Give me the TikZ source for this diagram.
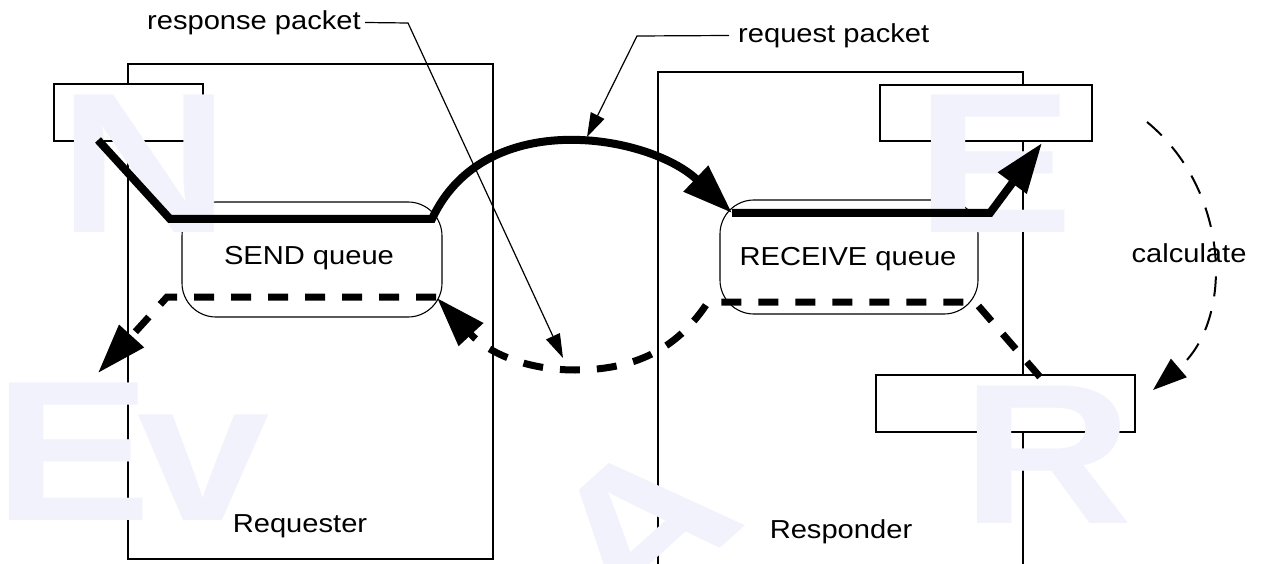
\documentclass[tikz,border=0pt]{standalone}
\usepackage{fontspec}
\setmainfont{Liberation Sans}
\newfontfamily\lab[FakeStretch=1.12]{Liberation Sans}
\newfontfamily\wmfont[FakeStretch=1.19]{Liberation Sans}
\usetikzlibrary{arrows.meta}
\definecolor{wm}{RGB}{242,242,252}
\tikzset{
  box/.style={draw, line width=2pt, fill=white, inner sep=0pt, outer sep=0pt},
  queue/.style={draw, line width=1.1pt, rounded corners=34pt, inner sep=0pt, outer sep=0pt},
  heavy/.style={line width=8pt, -{Triangle[length=50pt,width=34pt]}},
  heavydash/.style={line width=7pt, dash pattern=on 20pt off 17pt, -{Triangle[length=50pt,width=32pt]}},
  leader/.style={line width=1.2pt, -{Triangle[length=24pt,width=15pt]}},
  calcarc/.style={line width=2pt, dash pattern=on 20pt off 15pt, -{Triangle[length=34pt,width=24pt]}},
  lbl/.style={font=\lab\fontsize{26}{30}\selectfont, inner sep=0pt},
  wmark/.style={font=\wmfont\bfseries\fontsize{200}{200}\selectfont, text=wm, inner sep=0pt, anchor=base west}
}
\begin{document}
\begin{tikzpicture}[x=1pt,y=-1pt]
\useasboundingbox (0,0) rectangle (1261,564);
\clip (0,0) rectangle (1261,564);
% outer boxes
\node[draw, line width=2pt, minimum width=365pt, minimum height=495pt, inner sep=0pt] (requester) at (310.5,311.5) {};
\draw[line width=2pt] (658,575) |- (1023,72) -- (1023,575);
% small rectangles
\node[box, minimum width=149pt, minimum height=57pt] (lrect) at (128.5,112.5) {};
\node[box, minimum width=212pt, minimum height=56pt] (trect) at (986,113) {};
\node[box, minimum width=259pt, minimum height=57pt] (brect) at (1005.5,403.5) {};
% queues
\node[queue, minimum width=260pt, minimum height=115pt] (sendq) at (312,259.5) {};
\node[queue, minimum width=258pt, minimum height=114pt] (recvq) at (849,257) {};
% watermark
\node[wmark] (wmN) at (58,233) {N};
\node[wmark] (wmE) at (915,233) {E};
\node[wmark] (wmE2) at (-7,520) {E};
\node[wmark] (wmv) at (137,520) {v};
\node[wmark] (wmR) at (961,523) {R};
\node[font=\wmfont\bfseries\fontsize{200}{200}\selectfont, text=wm, inner sep=0pt, rotate=42] (wmA) at (640,528) {A};
% labels
\node[lbl] (sendt) at (309,258) {SEND queue};
\node[lbl] (recvt) at (848,259) {RECEIVE queue};
\node[lbl] (reqt) at (300,526.5) {Requester};
\node[lbl] (respt) at (841,531.5) {Responder};
\node[lbl] (calct) at (1189,253) {calculate};
\node[lbl, anchor=east] (resppk) at (361,22.5) {response packet};
\node[lbl, anchor=west] (reqpk) at (738,35.5) {request packet};
% coordinates
\coordinate (s0) at (98,140);
\coordinate (s1) at (170,219);
\coordinate (s2) at (432,219);
\coordinate (s3) at (732,213);
\coordinate (r1) at (990,213);
\coordinate (r2) at (1042,143);
\coordinate (d0) at (436,297);
\coordinate (d1) at (167,297);
\coordinate (d2) at (98,373);
\coordinate (e0) at (1040,377);
\coordinate (e1) at (975,302);
\coordinate (e2) at (708,302);
\coordinate (e3) at (575,370);
\coordinate (e4) at (437,298);
\coordinate (c0) at (1147,122);
\coordinate (c1) at (1153,390);
\coordinate (rk) at (408,23);
\coordinate (rtip) at (563,358);
\coordinate (qk) at (637,36);
\coordinate (qtip) at (587,137);
% connectors
\draw[heavy, line join=miter] (s0) -- (s1) -- (s2) .. controls (485,105) and (650,135) .. (s3);
\draw[heavy, line join=miter] (s3) -- (r1) -- (r2);
\draw[heavydash] (d0) -- (d1) -- (d2);
\draw[heavydash] (e0) -- (e1) -- (e2) .. controls (680,345) and (640,370) .. (e3) .. controls (530,370) and (490,355) .. (e4);
\draw[calcarc] (c0) .. controls (1230,190) and (1235,320) .. (c1);
\draw[leader] ([xshift=4pt]resppk.east) -- (rk) -- (rtip);
\draw[leader] ([xshift=-9pt]reqpk.west) -- (qk) -- (qtip);
\end{tikzpicture}
\end{document}
